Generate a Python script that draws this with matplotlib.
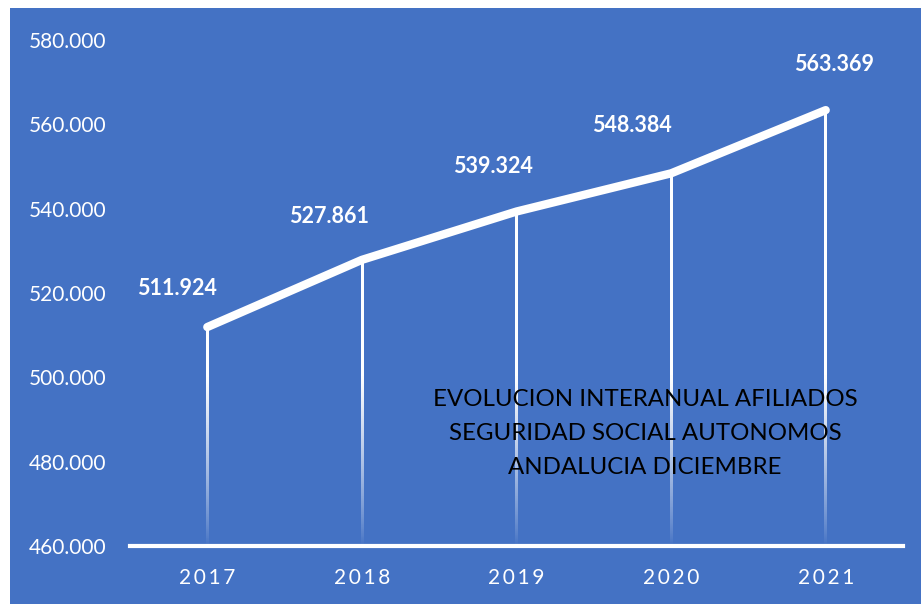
import matplotlib.pyplot as plt
from matplotlib.patches import Rectangle
import numpy as np

years = ['2017', '2018', '2019', '2020', '2021']
afiliados = [511924, 527861, 539324, 548384, 563369]
yticks = [460000, 480000, 500000, 520000, 540000, 560000, 580000]
title = 'EVOLUCION INTERANUAL AFILIADOS\nSEGURIDAD SOCIAL AUTONOMOS\nANDALUCIA DICIEMBRE'

BLUE = '#4472c4'
FONT = ['Lato', 'DejaVu Sans']

def miles(v):
    # spanish style thousands separator
    return f'{v:,.0f}'.replace(',', '.')

fig = plt.figure(figsize=(9.21, 6.04), dpi=100, facecolor='white')
fig.add_artist(Rectangle((10 / 921, 0), 1, 596 / 604, transform=fig.transFigure,
                         facecolor=BLUE, edgecolor='none', zorder=-5))

ax = fig.add_axes([130 / 921, 58 / 604, 773 / 921, 506 / 604])
ax.set_facecolor('none')
x = np.arange(len(years))
ax.set_xlim(-0.5, len(years) - 0.5)
ax.set_ylim(460000, 580000)

# drop lines: thin white gradient images fading out towards the axis
half_w = 1.25 / 155
for xi, v in zip(x, afiliados):
    ys = np.linspace(v, 460000, 200)
    a = np.clip((ys - 460000) / 40000, 0, 1) ** 0.8
    img = np.ones((len(ys), 1, 4))
    img[:, 0, 3] = a
    ax.imshow(img, extent=(xi - half_w, xi + half_w, 460000, v), aspect='auto',
              interpolation='bilinear', zorder=2)

ax.plot(x, afiliados, color='white', lw=6, solid_capstyle='round',
        solid_joinstyle='round', zorder=3)

label_dx = [-30, -33, -24, -39, 8]
label_dy = [39, 43, 45, 48, 46]
for xi, v, dx, dy in zip(x, afiliados, label_dx, label_dy):
    ax.annotate(miles(v), (xi, v), xytext=(dx, dy), textcoords='offset pixels',
                ha='center', va='center', color='white', fontsize=15.5,
                fontweight='bold', family=FONT)

ax.axhline(460000, color='white', lw=3, zorder=4, clip_on=False)
for s in ax.spines.values():
    s.set_visible(False)

ax.set_xlim(-0.5, len(years) - 0.5)
ax.set_ylim(460000, 580000)
ax.set_xticks(x)
ax.set_xticklabels(['\u2009'.join(y) for y in years], family=FONT, fontsize=15,
                   color='white')
ax.set_yticks(yticks)
ax.set_yticklabels([miles(v) for v in yticks], family=FONT, fontsize=15,
                   color='white')
ax.tick_params(axis='both', length=0)
ax.tick_params(axis='y', pad=17)
ax.tick_params(axis='x', pad=16)

ax.text(0.666, 0.222, title, transform=ax.transAxes, ha='center', va='center',
        fontsize=17.3, color='black', family=FONT, linespacing=1.75)

fig.savefig('out.png', dpi=100, facecolor='white')
